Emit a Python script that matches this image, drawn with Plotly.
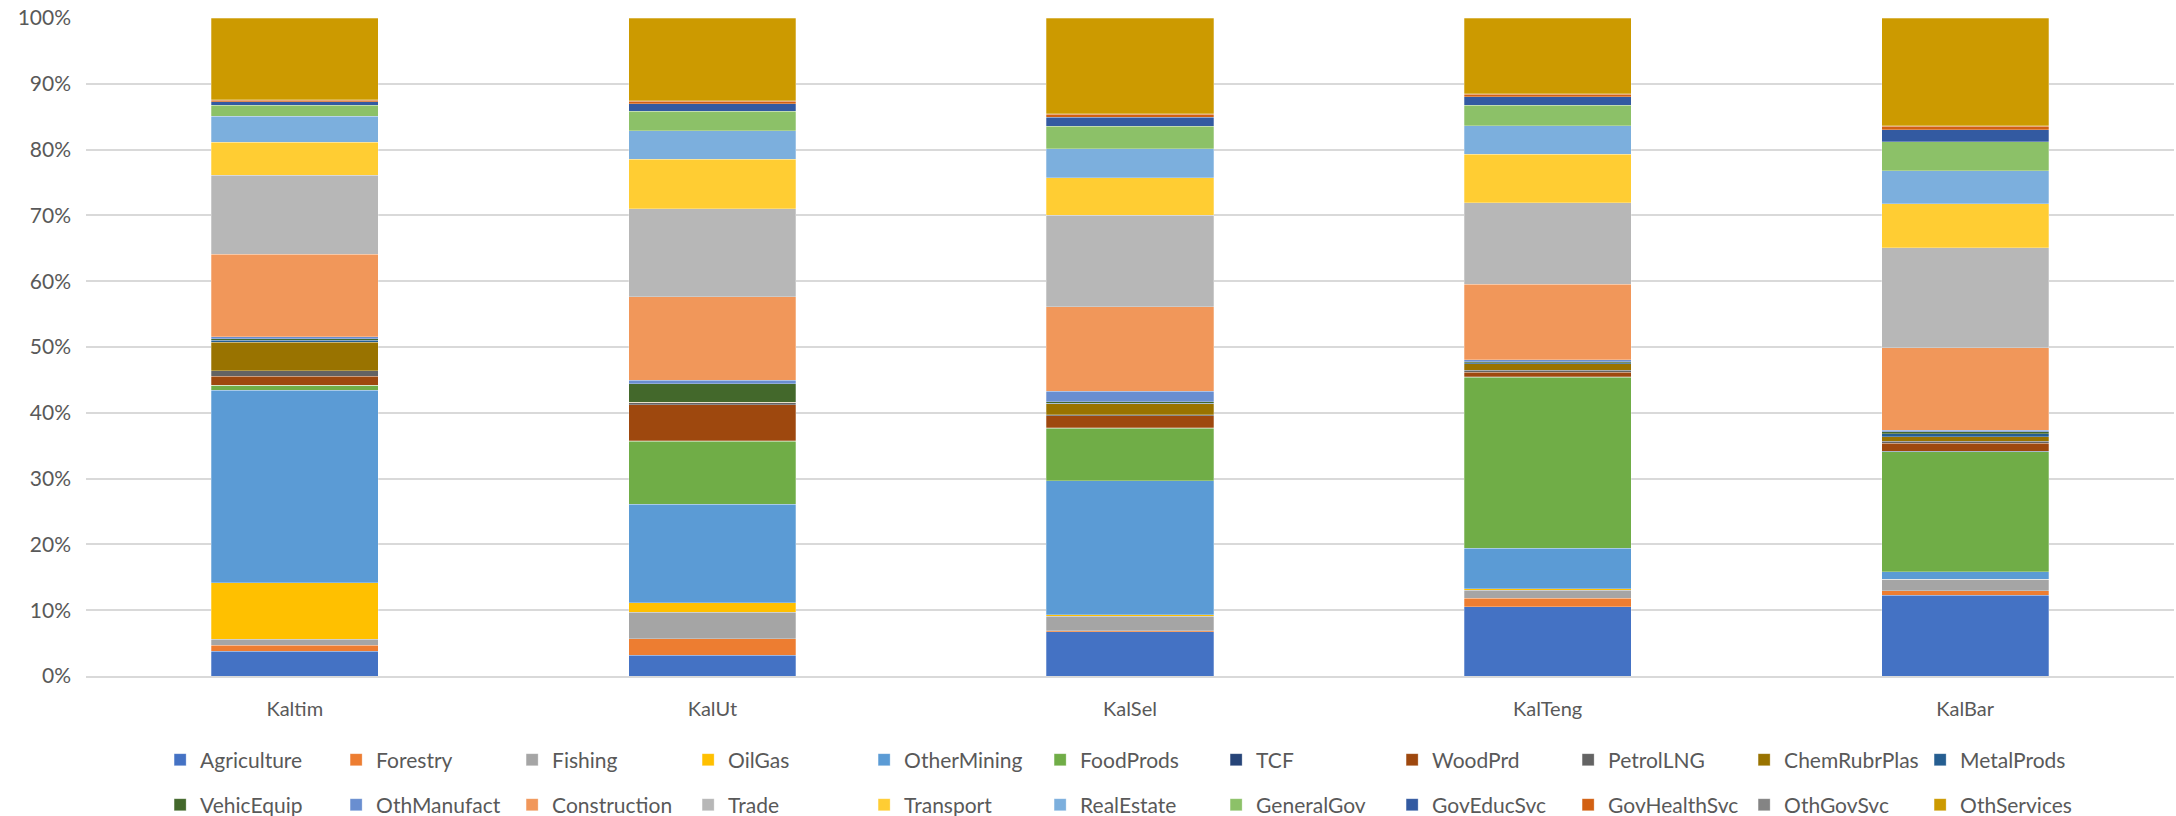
import plotly.graph_objects as go

regions = ["Kaltim", "KalUt", "KalSel", "KalTeng", "KalBar"]

# Sector shares of regional output (%), stacked bottom to top
agriculture   = [3.77, 3.16, 6.71, 10.52, 12.28]
forestry      = [0.91, 2.49, 0.20, 1.26, 0.67]
fishing       = [0.91, 4.05, 2.18, 1.26, 1.72]
oil_gas       = [8.57, 1.42, 0.21, 0.21, 0.05]
other_mining  = [29.28, 14.99, 20.36, 6.13, 1.12]
food_prods    = [0.71, 9.58, 8.00, 26.03, 18.23]
tcf           = [0.05, 0.05, 0.05, 0.05, 0.05]
wood_prd      = [1.32, 5.47, 1.88, 0.71, 1.26]
petrol_lng    = [0.86, 0.31, 0.15, 0.30, 0.30]
chem_rubr     = [4.36, 0.05, 1.63, 1.02, 0.67]
metal_prods   = [0.25, 0.05, 0.10, 0.15, 0.50]
vehic_equip   = [0.30, 2.79, 0.20, 0.15, 0.26]
oth_manufact  = [0.30, 0.55, 1.57, 0.31, 0.25]
construction  = [12.50, 12.67, 12.91, 11.40, 12.52]
trade         = [12.00, 13.37, 13.88, 12.41, 15.24]
transport     = [5.00, 7.50, 5.68, 7.35, 6.64]
real_estate   = [3.95, 4.35, 4.41, 4.35, 5.02]
general_gov   = [1.67, 2.99, 3.44, 3.14, 4.45]
gov_educ      = [0.60, 1.12, 1.37, 1.27, 1.77]
gov_health    = [0.20, 0.40, 0.45, 0.40, 0.56]
oth_gov       = [0.10, 0.10, 0.10, 0.10, 0.10]
oth_services  = [12.39, 12.54, 14.52, 11.48, 16.34]

series = [
    ("Agriculture", agriculture, "#4472C4"),
    ("Forestry", forestry, "#ED7D31"),
    ("Fishing", fishing, "#A5A5A5"),
    ("OilGas", oil_gas, "#FFC000"),
    ("OtherMining", other_mining, "#5B9BD5"),
    ("FoodProds", food_prods, "#70AD47"),
    ("TCF", tcf, "#264478"),
    ("WoodPrd", wood_prd, "#9E480E"),
    ("PetrolLNG", petrol_lng, "#636363"),
    ("ChemRubrPlas", chem_rubr, "#997300"),
    ("MetalProds", metal_prods, "#255E91"),
    ("VehicEquip", vehic_equip, "#43682B"),
    ("OthManufact", oth_manufact, "#698ED0"),
    ("Construction", construction, "#F1975A"),
    ("Trade", trade, "#B7B7B7"),
    ("Transport", transport, "#FFCD33"),
    ("RealEstate", real_estate, "#7CAFDD"),
    ("GeneralGov", general_gov, "#8CC168"),
    ("GovEducSvc", gov_educ, "#335AA1"),
    ("GovHealthSvc", gov_health, "#D26012"),
    ("OthGovSvc", oth_gov, "#848484"),
    ("OthServices", oth_services, "#CC9A00"),
]

fig = go.Figure()
for i, (name, vals, color) in enumerate(series):
    fig.add_trace(go.Bar(
        x=regions, y=vals, name=name,
        legend="legend" if i < 11 else "legend2",
        marker=dict(color=color, line=dict(color="rgba(255,255,255,0.45)", width=0.6)),
    ))

font_family = "Lato, 'Open Sans', sans-serif"
legend_common = dict(
    orientation="h",
    x=0.0355, xanchor="left",
    yref="container", yanchor="middle",
    entrywidth=131, entrywidthmode="pixels",
    traceorder="normal",
    font=dict(size=21, color="#595959"),
    itemwidth=30,
    bgcolor="rgba(0,0,0,0)",
)
fig.update_layout(
    barmode="stack",
    barnorm="percent",
    bargap=0.6,
    width=2176, height=816,
    margin=dict(l=86, r=2, t=18, b=140),
    paper_bgcolor="white",
    plot_bgcolor="white",
    font=dict(family=font_family, size=19, color="#595959"),
    legend=dict(legend_common, y=1 - 760 / 816),
    legend2=dict(legend_common, y=1 - 805 / 816),
    xaxis=dict(
        showline=True, linecolor="#D9D9D9", linewidth=2,
        ticks="", tickfont=dict(size=20, color="#595959"),
        ticklabelstandoff=14,
    ),
    yaxis=dict(
        range=[0, 100], dtick=10, ticksuffix="%",
        showgrid=True, gridcolor="#D9D9D9", gridwidth=2,
        zeroline=False, ticks="",
        tickfont=dict(size=21, color="#595959"),
        ticklabelstandoff=14,
    ),
)

fig.write_html("out.html")
